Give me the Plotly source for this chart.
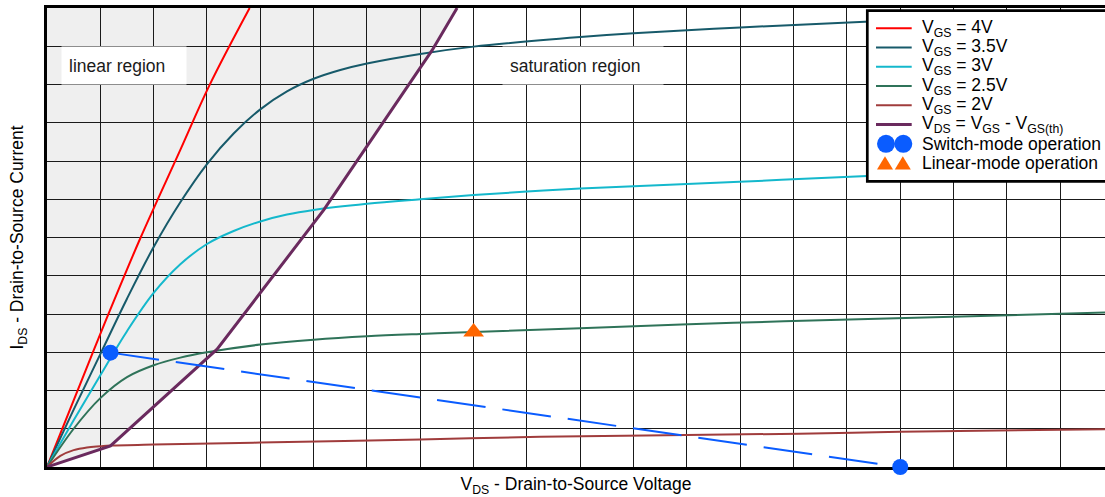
import plotly.graph_objects as go

# ---- Output characteristics of the MOSFET (x = VDS, y = IDS, in grid divisions) ----
vds_4v = [0, 0.875, 1.26, 1.75, 2.5, 3.05, 3.8]
ids_4v = [0, 3.05, 4.36, 5.98, 8.29, 9.99, 12.0]

vds_35v = [0, 0.5, 1.0, 1.5, 2.0, 2.5, 3.0, 3.5, 4.0, 4.5, 5.0, 5.5, 6.0, 7.0,
           8.0, 10.0, 11.0, 13.0, 15.34, 19.84]
ids_35v = [0, 1.5, 2.95, 4.4, 5.75, 6.92, 7.92, 8.72, 9.35, 9.82, 10.15, 10.38, 10.55, 10.8,
           10.99, 11.24, 11.34, 11.49, 11.64, 11.93]

vds_3v = [0, 0.5, 1.0, 1.5, 2.0, 2.5, 3.0, 3.5, 4.0, 4.5, 5.0, 6.0, 7.0, 8.0, 9.0, 10.0,
          12.875, 15.06, 19.84]
ids_3v = [0, 1.22, 2.4, 3.55, 4.55, 5.3, 5.83, 6.17, 6.42, 6.6, 6.72, 6.88, 7.0, 7.11, 7.2, 7.28,
          7.45, 7.59, 7.88]

vds_25v = [0, 0.5, 1.0, 1.5, 2.0, 2.5, 3.0, 4.0, 5.0, 6.0, 7.0, 8.0, 10.0, 12.875, 15.75, 19.84]
ids_25v = [0, 1.0, 1.8, 2.35, 2.66, 2.86, 3.0, 3.2, 3.33, 3.42, 3.48, 3.53, 3.63, 3.77, 3.88, 4.04]

vds_2v = [0, 0.25, 0.5, 0.75, 1.0, 1.19, 2.0, 4.0, 7.0, 9.25, 14.1, 16.0, 19.84]
ids_2v = [0, 0.29, 0.44, 0.51, 0.54, 0.56, 0.59, 0.64, 0.72, 0.79, 0.87, 0.92, 0.99]

# Boundary VDS = VGS - VGS(th) between linear and saturation regions
vds_sat = [0, 1.19, 3.19, 5.19, 7.22, 7.69]
ids_sat = [0, 0.55, 3.08, 6.72, 10.89, 12.0]

# Operating points
switch_vds = [1.19, 16.0]
switch_ids = [2.99, 0.0]
linear_vds = [8.0]
linear_ids = [3.53]

legend_labels = [
    "V<sub>GS</sub> = 4V",
    "V<sub>GS</sub> = 3.5V",
    "V<sub>GS</sub> = 3V",
    "V<sub>GS</sub> = 2.5V",
    "V<sub>GS</sub> = 2V",
    "V<sub>DS</sub> = V<sub>GS</sub> - V<sub>GS(th)</sub>",
    "Switch-mode operation",
    "Linear-mode operation",
]

X_MAX, Y_MAX = 19.84, 12

RED = "#ff0000"
TEAL = "#175a6a"
CYAN = "#14b8cc"
GREEN = "#2f7359"
BROWN = "#a03c3c"
PURPLE = "#6a2a5e"
BLUE = "#0a5cff"
ORANGE = "#ff6600"
FONT = "Liberation Sans, Arial, sans-serif"
FS = 17.5

W, H = 1105, 497
ML, MR, MT, MB = 47, 0, 8, 30


def px(xp):
    return (xp - ML) / (W - ML - MR)


def py(yp):
    return (H - MB - yp) / (H - MT - MB)


fig = go.Figure()

curves = [
    (vds_4v, ids_4v, RED, 2),
    (vds_35v, ids_35v, TEAL, 2),
    (vds_3v, ids_3v, CYAN, 2),
    (vds_25v, ids_25v, GREEN, 2),
    (vds_2v, ids_2v, BROWN, 2),
]
for xs, ys, col, w in curves:
    fig.add_trace(go.Scatter(x=xs, y=ys, mode="lines",
                             line=dict(color=col, width=w, shape="spline", smoothing=1.0),
                             showlegend=False, hoverinfo="skip"))

fig.add_trace(go.Scatter(x=vds_sat, y=ids_sat, mode="lines",
                         line=dict(color=PURPLE, width=3),
                         showlegend=False, hoverinfo="skip"))

fig.add_trace(go.Scatter(x=switch_vds, y=switch_ids, mode="lines",
                         line=dict(color=BLUE, width=2, dash="49px,17px"),
                         showlegend=False, hoverinfo="skip"))
fig.add_trace(go.Scatter(x=switch_vds, y=switch_ids, mode="markers",
                         marker=dict(color=BLUE, size=16, symbol="circle"),
                         cliponaxis=False, showlegend=False, hoverinfo="skip"))
fig.add_trace(go.Scatter(x=linear_vds, y=linear_ids, mode="markers",
                         marker=dict(color=ORANGE, size=18, symbol="triangle-up"),
                         cliponaxis=False, showlegend=False, hoverinfo="skip"))

# Shaded linear region: left of the VDS = VGS - VGS(th) boundary
path = "M 0,0 " + " ".join(f"L {x},{y}" for x, y in zip(vds_sat, ids_sat)) + f" L 0,{Y_MAX} Z"
shapes = [dict(type="path", xref="x", yref="y", path=path,
               fillcolor="#efefef", line=dict(width=0), layer="below")]

# Legend panel
shapes.append(dict(type="rect", xref="paper", yref="paper",
                   x0=px(867.3), x1=px(1110), y0=py(181.3), y1=py(10.7),
                   fillcolor="white", line=dict(color="black", width=2.7), layer="above"))

row_y = [28.3 + 19.25 * i for i in range(8)]
line_styles = [(RED, 2), (TEAL, 2), (CYAN, 2), (GREEN, 2), (BROWN, 2), (PURPLE, 3)]
for (col, w), yy in zip(line_styles, row_y):
    shapes.append(dict(type="line", xref="paper", yref="paper",
                       x0=px(876), x1=px(911.7), y0=py(yy), y1=py(yy),
                       line=dict(color=col, width=w), layer="above"))
for cx in (886, 903.3):
    shapes.append(dict(type="circle", xref="paper", yref="paper",
                       x0=px(cx - 9), x1=px(cx + 9), y0=py(row_y[6] + 9), y1=py(row_y[6] - 9),
                       fillcolor=BLUE, line=dict(width=0), layer="above"))
for cx in (885, 902.8):
    tri = (f"M {px(cx - 8)},{py(row_y[7] + 6.5)} L {px(cx + 8)},{py(row_y[7] + 6.5)} "
           f"L {px(cx)},{py(row_y[7] - 6.8)} Z")
    shapes.append(dict(type="path", xref="paper", yref="paper", path=tri,
                       fillcolor=ORANGE, line=dict(width=0), layer="above"))

annotations = []
for label, yy in zip(legend_labels, row_y):
    annotations.append(dict(text=label, xref="paper", yref="paper", x=px(920), y=py(yy),
                            xanchor="left", yanchor="middle", showarrow=False,
                            font=dict(family=FONT, size=FS, color="black")))

annotations.append(dict(text="linear region", xref="x", yref="y", x=1.444, y=10.5,
                        xanchor="center", yanchor="middle", showarrow=False, align="left",
                        width=110, height=23, borderpad=7, bgcolor="white",
                        font=dict(family=FONT, size=FS, color="#1a1a1a")))
annotations.append(dict(text="saturation region", xref="x", yref="y", x=10.06, y=10.5,
                        xanchor="center", yanchor="middle", showarrow=False, align="left",
                        width=146, height=23, borderpad=7, bgcolor="white",
                        font=dict(family=FONT, size=FS, color="#1a1a1a")))

fig.update_layout(
    width=W, height=H,
    margin=dict(l=ML, r=MR, t=MT, b=MB, pad=0),
    paper_bgcolor="white", plot_bgcolor="white",
    font=dict(family=FONT, size=FS, color="black"),
    shapes=shapes, annotations=annotations,
    xaxis=dict(range=[0, X_MAX], tick0=0, dtick=1, showticklabels=False, ticks="",
               showgrid=True, gridcolor="#1a1a1a", gridwidth=1, zeroline=False,
               showline=True, linecolor="black", linewidth=3, mirror=True,
               layer="below traces",
               title=dict(text="V<sub>DS</sub> - Drain-to-Source Voltage", standoff=11,
                          font=dict(family=FONT, size=FS, color="black"))),
    yaxis=dict(range=[0, Y_MAX], tick0=0, dtick=1, showticklabels=False, ticks="",
               showgrid=True, gridcolor="#1a1a1a", gridwidth=1, zeroline=False,
               showline=True, linecolor="black", linewidth=3,
               layer="below traces",
               title=dict(text="I<sub>DS</sub> - Drain-to-Source Current", standoff=16,
                          font=dict(family=FONT, size=FS, color="black"))),
)

fig.write_html("out.html")
